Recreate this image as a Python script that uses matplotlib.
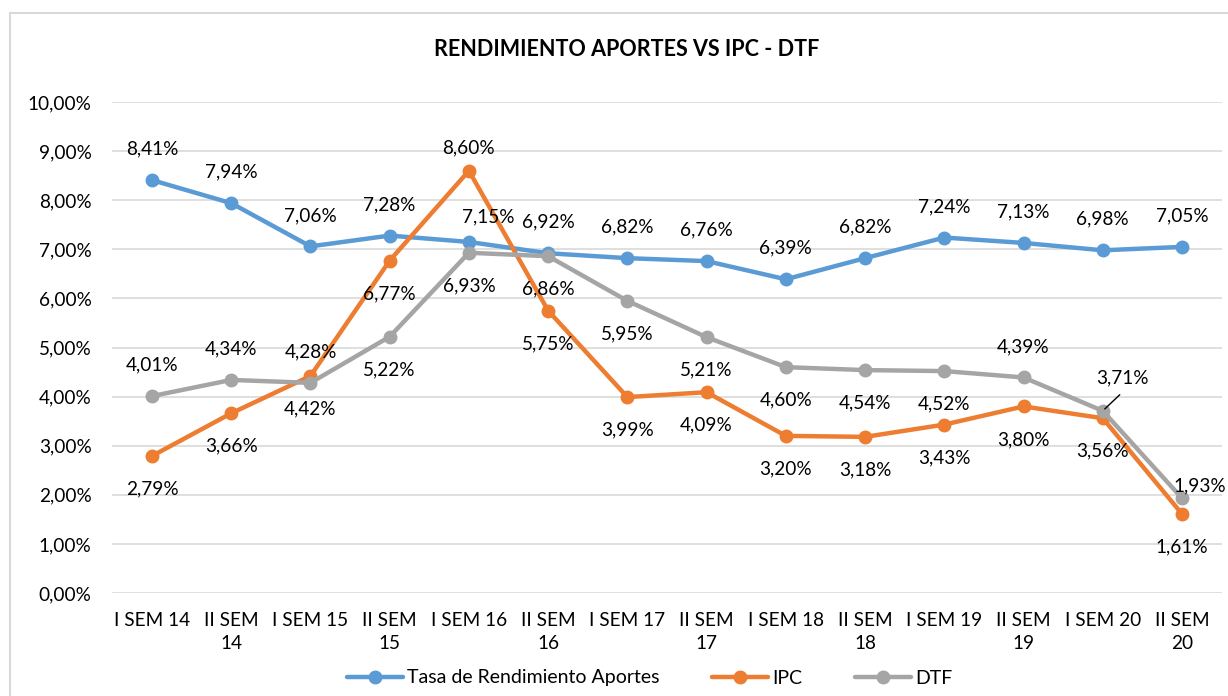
import matplotlib.pyplot as plt
from matplotlib.patches import Rectangle

categories = ['I SEM 14', 'II SEM\n14', 'I SEM 15', 'II SEM\n15', 'I SEM 16', 'II SEM\n16',
              'I SEM 17', 'II SEM\n17', 'I SEM 18', 'II SEM\n18', 'I SEM 19', 'II SEM\n19',
              'I SEM 20', 'II SEM\n20']
tasa = [8.41, 7.94, 7.06, 7.28, 7.15, 6.92, 6.82, 6.76, 6.39, 6.82, 7.24, 7.13, 6.98, 7.05]
ipc = [2.79, 3.66, 4.42, 6.77, 8.60, 5.75, 3.99, 4.09, 3.20, 3.18, 3.43, 3.80, 3.56, 1.61]
dtf = [4.01, 4.34, 4.28, 5.22, 6.93, 6.86, 5.95, 5.21, 4.60, 4.54, 4.52, 4.39, 3.71, 1.93]

plt.rcParams['font.family'] = ['Lato', 'DejaVu Sans']
FS = 13.7

fig = plt.figure(figsize=(12.28, 6.96), dpi=100)
ax = fig.add_axes([0.0915, 0.148, 0.9033, 0.7054])

# chart frame
fig.patches.append(Rectangle((10 / 1228, -0.01), 1.02, 1 - 13 / 696 + 0.01,
                             transform=fig.transFigure, fill=False,
                             edgecolor='#D9D9D9', linewidth=1.5))

x = list(range(len(categories)))
series = [
    (tasa, '#5B9BD5', 'Tasa de Rendimiento Aportes'),
    (ipc, '#ED7D31', 'IPC'),
    (dtf, '#A5A5A5', 'DTF'),
]
for vals, col, name in series:
    ax.plot(x, vals, color=col, linewidth=3.2, marker='o', markersize=9,
            solid_capstyle='round', label=name, zorder=3)


def fmt(v):
    return ('%.2f%%' % v).replace('.', ',')


# label offsets in pixels (dx, dy), positive dy = up
up, down = (0, 31), (0, -33)
tasa_off = [up] * 14
tasa_off[4] = (19, 25)
ipc_off = [down] * 14
ipc_off[4] = (0, 23)
dtf_off = [down] * 14
for i in (0, 1, 2, 11):
    dtf_off[i] = up

for vals, offs in ((tasa, tasa_off), (ipc, ipc_off), (dtf, dtf_off)):
    for i, v in enumerate(vals):
        if vals is dtf and i in (12, 13):
            continue
        ax.annotate(fmt(v), (i, v), xytext=offs[i], textcoords='offset pixels',
                    ha='center', va='center', fontsize=FS, color='#000000')

# special DTF labels
ax.annotate(fmt(dtf[12]), (12, dtf[12]), xytext=(20, 33), textcoords='offset pixels',
            ha='center', va='center', fontsize=FS)
ax.annotate('', (12, dtf[12]), xytext=(19, 18), textcoords='offset pixels',
            arrowprops=dict(arrowstyle='-', color='#000000', lw=1))
ax.annotate(fmt(dtf[13]), (13, dtf[13]), xytext=(-9, 12), textcoords='offset pixels',
            ha='left', va='center', fontsize=FS, annotation_clip=False)

ax.set_xlim(-0.5, 13.5)
ax.set_ylim(0, 10)
ax.set_yticks(range(0, 11))
ax.set_yticklabels([('%.2f%%' % t).replace('.', ',') for t in range(0, 11)], fontsize=FS)
ax.set_xticks(x)
ax.set_xticklabels(categories, fontsize=FS, linespacing=1.37, va='top')
ax.tick_params(axis='both', length=0)
ax.tick_params(axis='x', pad=14)
ax.tick_params(axis='y', pad=15)
ax.grid(axis='y', color='#D9D9D9', linewidth=1.2)
ax.set_axisbelow(True)
for s in ax.spines.values():
    s.set_visible(False)

fig.text(0.51, 1 - 50 / 696, 'RENDIMIENTO APORTES VS IPC - DTF', ha='center', va='center',
         fontsize=15.5, fontweight='bold')

fig.legend(loc='center', bbox_to_anchor=(0.529, 1 - 678 / 696), ncol=3, frameon=False,
           fontsize=14, handlelength=2.9, columnspacing=2.7, handletextpad=0.2)

fig.savefig('out.png', dpi=100)
